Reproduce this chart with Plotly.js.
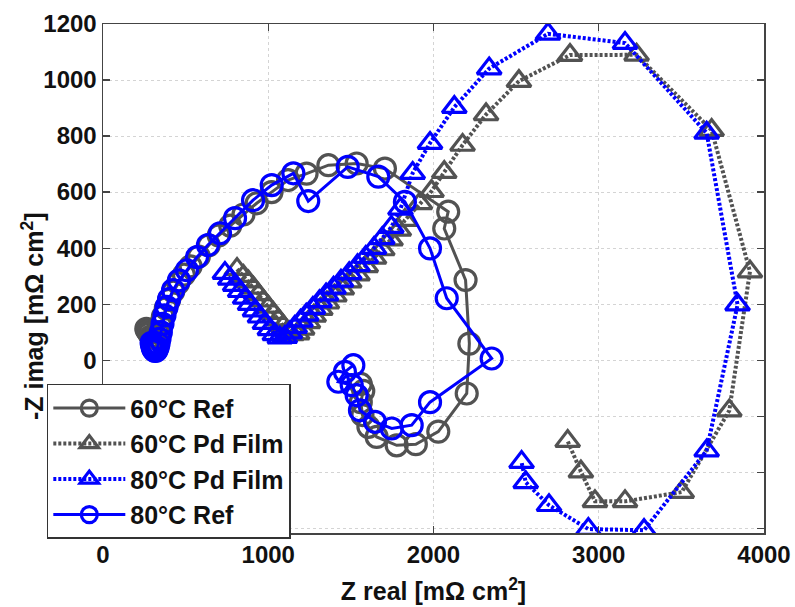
<!DOCTYPE html>
<html>
<head>
<meta charset="utf-8">
<script src="https://cdn.plot.ly/plotly-3.0.1.min.js"></script>
<style>
  html, body { margin: 0; padding: 0; background: #ffffff; }
  #chart { width: 795px; height: 607px; }
</style>
</head>
<body>
<div id="chart"></div>
<script>
// Nyquist impedance spectra, Z real vs -Z imag, both in mΩ cm²
const seriesNames = ['60°C Ref', '60°C Pd Film', '80°C Pd Film', '80°C Ref'];

const ref60X = [262, 266, 272, 280, 290, 300, 315, 330, 345, 362, 380, 400, 425, 455, 490, 530, 580, 640, 700, 770, 850, 930, 1020, 1120, 1232, 1364, 1535, 1706, 2089, 2065, 2194, 2217, 2201, 2029, 1893, 1777, 1656, 1606, 1570, 1560, 1575, 1560];
const ref60Y = [112, 108, 102, 95, 85, 80, 85, 100, 125, 155, 185, 215, 245, 275, 305, 335, 370, 410, 445, 480, 520, 560, 600, 643, 666, 696, 702, 684, 530, 470, 286, 59, -119, -255, -300, -304, -274, -238, -196, -150, -110, -85];

const pd60X = [811, 850, 880, 910, 940, 970, 1000, 1030, 1060, 1090, 1115, 1140, 1175, 1205, 1240, 1275, 1315, 1355, 1400, 1445, 1490, 1540, 1590, 1640, 1690, 1740, 1790, 1827, 1918, 1988, 2065, 2176, 2318, 2517, 2826, 3229, 3683, 3915, 3790, 3502, 3159, 2977, 2892, 2812];
const pd60Y = [325, 300, 280, 258, 235, 212, 190, 168, 145, 122, 103, 92, 95, 112, 135, 158, 182, 205, 230, 255, 280, 305, 335, 365, 395, 430, 465, 500, 560, 603, 671, 768, 877, 996, 1089, 1090, 821, 316, -180, -471, -504, -504, -398, -289];

const pd80X = [738, 770, 800, 830, 860, 890, 920, 950, 980, 1010, 1040, 1070, 1100, 1130, 1160, 1195, 1230, 1270, 1310, 1350, 1395, 1440, 1490, 1540, 1590, 1640, 1690, 1745, 1800, 1874, 1979, 2126, 2337, 2693, 3159, 3653, 3840, 3653, 3274, 2937, 2699, 2558, 2533];
const pd80Y = [311, 290, 268, 246, 222, 200, 177, 155, 132, 110, 92, 80, 82, 98, 118, 140, 162, 186, 210, 234, 258, 283, 310, 338, 368, 400, 435, 475, 540, 668, 775, 903, 1041, 1165, 1132, 811, 198, -323, -607, -603, -518, -436, -364];

const ref80X = [294, 297, 300, 303, 307, 312, 318, 324, 330, 336, 342, 350, 360, 372, 385, 400, 424, 460, 508, 569, 635, 708, 799, 908, 1021, 1152, 1242, 1481, 1666, 1827, 1979, 2080, 2352, 1979, 1868, 1747, 1646, 1555, 1535, 1505, 1424, 1464, 1515];
const ref80Y = [62, 55, 48, 42, 37, 34, 33, 36, 44, 58, 76, 100, 130, 160, 190, 218, 250, 285, 321, 368, 411, 453, 507, 571, 625, 667, 568, 690, 655, 565, 399, 221, 6, -150, -232, -244, -220, -179, -125, -89, -77, -42, -18];

const xTicks = [0, 1000, 2000, 3000, 4000];
const yTicks = [-600, -400, -200, 0, 200, 400, 600, 800, 1000, 1200];

const GRAY = '#525252';
const BLUE = '#0000ff';

function trace(name, xs, ys, color, symbol, dash, lw) {
  const isCircle = symbol.indexOf('circle') === 0;
  return {
    type: 'scatter', mode: 'lines+markers', name: name,
    x: xs, y: ys, legendgroup: name,
    line: { color: color, width: lw, dash: dash },
    marker: { symbol: symbol, size: isCircle ? 21 : 21,
              color: color, line: { color: color, width: 3.2 } }
  };
}

const data = [
  trace(seriesNames[0], ref60X, ref60Y, GRAY, 'circle-open', 'solid', 3),
  trace(seriesNames[1], pd60X, pd60Y, GRAY, 'triangle-up-open', '3px,2px', 4),
  trace(seriesNames[2], pd80X, pd80Y, BLUE, 'triangle-up-open', '3px,2px', 4),
  trace(seriesNames[3], ref80X, ref80Y, BLUE, 'circle-open', 'solid', 3)
];

const FONT = 'Liberation Sans, Arial, Helvetica, sans-serif';

const axisCommon = {
  showline: true, linecolor: '#444', linewidth: 1.5, mirror: 'ticks',
  ticks: 'inside', ticklen: 7, tickwidth: 1.2, tickcolor: '#444',
  showgrid: true, gridcolor: '#d4d4d4', griddash: 'dot', gridwidth: 1,
  zeroline: false,
  tickfont: { family: FONT, size: 24, color: '#111', weight: 'bold' }
};

const layout = {
  width: 795, height: 607,
  margin: { l: 103, r: 31, t: 24, b: 74 },
  paper_bgcolor: '#ffffff', plot_bgcolor: '#ffffff',
  showlegend: true,
  xaxis: Object.assign({}, axisCommon, {
    range: [0, 4000], tickvals: xTicks, ticktext: xTicks.map(String),
    title: { text: 'Z real [mΩ cm<sup>2</sup>]', standoff: 15,
             font: { family: FONT, size: 25, color: '#111', weight: 'bold' } }
  }),
  yaxis: Object.assign({}, axisCommon, {
    range: [-617, 1200], tickvals: yTicks, ticktext: yTicks.map(String)
  }),
  // y-axis label, placed a little below the plot's vertical middle
  annotations: [{
    xref: 'paper', yref: 'paper', x: -0.106, y: 0.426,
    xanchor: 'center', yanchor: 'middle', textangle: -90, showarrow: false,
    text: '-Z imag [mΩ cm<sup>2</sup>]',
    font: { family: FONT, size: 25, color: '#111', weight: 'bold' }
  }],
  legend: {
    x: -0.085, y: 0.293, xanchor: 'left', yanchor: 'top',
    bgcolor: '#ffffff', bordercolor: '#333', borderwidth: 1.5,
    font: { family: FONT, size: 25, color: '#111', weight: 'bold' },
    itemwidth: 72, tracegroupgap: 7, traceorder: 'normal'
  }
};

Plotly.newPlot('chart', data, layout, { displayModeBar: false, staticPlot: true });
</script>
</body>
</html>
